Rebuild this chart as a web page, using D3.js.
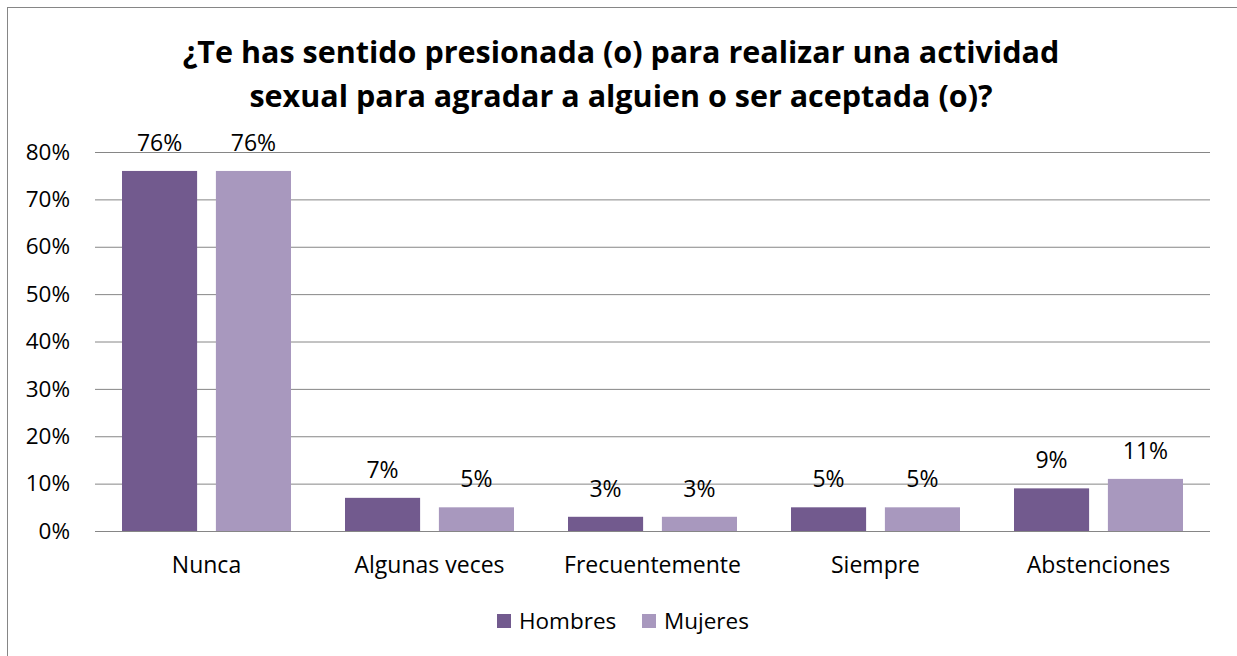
<!DOCTYPE html>
<html lang="es">
<head>
<meta charset="UTF-8">
<title>Presión actividad sexual</title>
<script src="https://d3js.org/d3.v7.min.js"></script>
<style>
  * { margin: 0; padding: 0; box-sizing: border-box; }
  body { background: #fff; font-family: "Open Sans", sans-serif; }
  svg text { font-family: "Open Sans", sans-serif; }
</style>
</head>
<body>
<div id="chart"></div>
<script>
const categories = ["Nunca", "Algunas veces", "Frecuentemente", "Siempre", "Abstenciones"];
const seriesNames = ["Hombres", "Mujeres"];
const hombres = [0.76, 0.07, 0.03, 0.05, 0.09];
const mujeres = [0.76, 0.05, 0.03, 0.05, 0.11];
const yTicks = [0, 0.1, 0.2, 0.3, 0.4, 0.5, 0.6, 0.7, 0.8];
const titleLines = ["¿Te has sentido presionada (o) para realizar una actividad",
                    "sexual para agradar a alguien o ser aceptada (o)?"];

const W = 1237, H = 656;
const margin = { top: 152, right: 27, bottom: 125, left: 95 };
const width = W - margin.left - margin.right,
      height = H - margin.top - margin.bottom;

const color = d3.scaleOrdinal().domain(seriesNames).range(["#725a8e", "#a898be"]);

const svg = d3.select("#chart").append("svg")
    .attr("width", W).attr("height", H);

svg.append("rect")
    .attr("x", 7.5).attr("y", 7.5)
    .attr("width", W).attr("height", H)
    .attr("fill", "none").attr("stroke", "#868686").attr("stroke-width", 1);

svg.selectAll(".title")
    .data(titleLines)
    .join("text")
    .attr("x", 621).attr("y", (d, i) => 63 + i * 44)
    .attr("text-anchor", "middle")
    .style("font-size", "30.5px").style("font-weight", "bold").style("fill", "#000")
    .text(d => d);

const g = svg.append("g").attr("transform", `translate(${margin.left},${margin.top})`);

const x0 = d3.scaleBand().domain(categories).range([0, width]);
const x1 = d3.scaleBand().domain(seriesNames).range([27, x0.bandwidth() - 27]).paddingInner(0.2);
const y = d3.scaleLinear().domain([0, 0.8]).range([height, 0]);

g.append("g")
    .call(d3.axisLeft(y).tickValues(yTicks).tickSize(-width).tickFormat(d3.format(".0%")))
    .call(a => a.select(".domain").remove())
    .call(a => a.selectAll(".tick line").attr("stroke", "#868686"))
    .call(a => a.selectAll(".tick text").attr("x", -25).attr("fill", "#000")
        .style("font-size", "22.5px"));

const data = categories.map((c, i) => ({ cat: c, vals: [
    { s: "Hombres", v: hombres[i] }, { s: "Mujeres", v: mujeres[i] }] }));

const groups = g.selectAll(".grp").data(data).join("g")
    .attr("transform", d => `translate(${x0(d.cat)},0)`);

groups.selectAll("rect").data(d => d.vals).join("rect")
    .attr("x", d => x1(d.s)).attr("width", x1.bandwidth())
    .attr("y", d => y(d.v)).attr("height", d => height - y(d.v))
    .attr("fill", d => color(d.s));

groups.selectAll(".lbl").data(d => d.vals).join("text")
    .attr("x", d => x1(d.s) + x1.bandwidth() / 2)
    .attr("y", d => y(d.v) - 20)
    .attr("text-anchor", "middle")
    .style("font-size", "23px").style("fill", "#000")
    .text(d => d3.format(".0%")(d.v));

g.append("g").attr("transform", `translate(0,${height})`)
    .call(d3.axisBottom(x0).tickSize(0).tickPadding(0))
    .call(a => a.select(".domain").remove())
    .call(a => a.selectAll(".tick text").attr("y", 42).attr("dy", 0).attr("fill", "#000")
        .style("font-size", "23px"));

const legend = svg.append("g").attr("transform", "translate(497,614)");
const legX = [0, 145];
seriesNames.forEach((s, i) => {
  const row = legend.append("g").attr("transform", `translate(${legX[i]},0)`);
  row.append("rect").attr("width", 14).attr("height", 14).attr("fill", color(s));
  row.append("text").attr("x", 22).attr("y", 15)
      .style("font-size", "22.5px").style("fill", "#000").text(s);
});
</script>
</body>
</html>
